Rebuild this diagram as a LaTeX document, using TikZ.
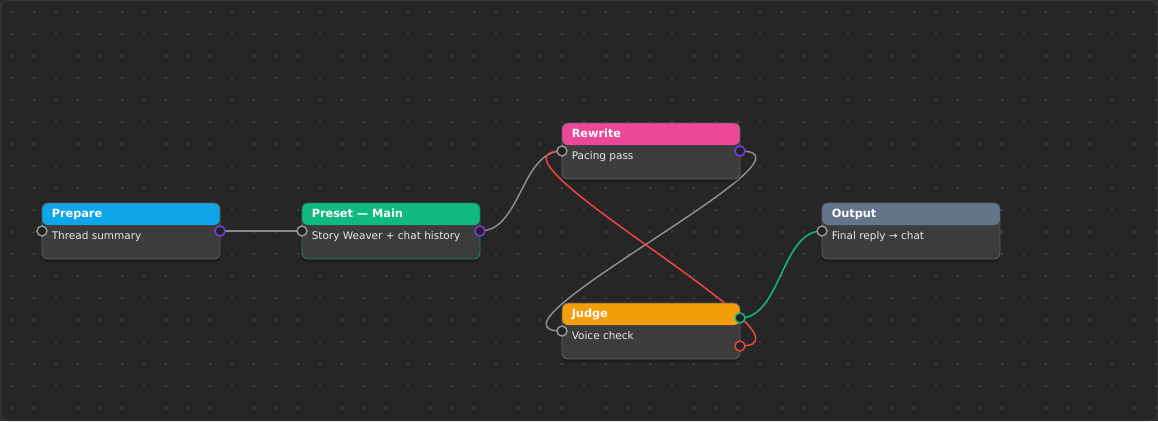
\documentclass[tikz,border=0pt]{standalone}
\usepackage{fontspec}
\setmainfont{DejaVu Sans}
\usetikzlibrary{calc,shadows}
\definecolor{outerc}{HTML}{2E2E2E}
\definecolor{bgc}{HTML}{262626}
\definecolor{framec}{HTML}{363636}
\definecolor{dotc}{HTML}{414141}
\definecolor{bodyc}{HTML}{3C3C3C}
\definecolor{borderc}{HTML}{5C5C5C}
\definecolor{prepc}{HTML}{0EA5E9}
\definecolor{presc}{HTML}{10B981}
\definecolor{rewc}{HTML}{EC4899}
\definecolor{judc}{HTML}{F59E0B}
\definecolor{outc}{HTML}{64748B}
\definecolor{purp}{HTML}{7C3AED}
\definecolor{grayedge}{HTML}{8C8C8C}
\definecolor{rededge}{HTML}{EF4444}
\definecolor{greenedge}{HTML}{10B981}
\definecolor{portgray}{HTML}{9A9A9A}
\definecolor{portfill}{HTML}{232323}
\definecolor{bodytext}{HTML}{E6E6E6}
\definecolor{presborder}{HTML}{1E7D5E}
\begin{document}
\begin{tikzpicture}[x=1pt,y=-1pt,
  card/.style={draw=borderc, line width=0.9pt, fill=bodyc, rounded corners=6pt,
    minimum width=178pt, minimum height=56pt, inner sep=0pt,
    drop shadow={shadow xshift=0pt, shadow yshift=-3pt, opacity=0.25, fill=black}},
  hdr/.style={path picture={\fill[#1] (path picture bounding box.north west) rectangle ([yshift=-22pt]path picture bounding box.north east);}},
  hdrtext/.style={anchor=base west, inner sep=0pt, text=white, font=\fontsize{11.3}{13}\selectfont\bfseries},
  bodytxt/.style={anchor=base west, inner sep=0pt, text=bodytext, font=\fontsize{10.5}{13}\selectfont},
  port/.style={circle, draw=#1, line width=1.4pt, fill=portfill, minimum size=10pt, inner sep=0pt},
  edge/.style={line width=1.5pt, draw=#1}
]
\useasboundingbox (0,0) rectangle (1158,421);
\fill[outerc] (0,0) rectangle (1158,421);
\draw[fill=bgc, draw=framec, line width=1pt, rounded corners=8pt] (0.5,0.5) rectangle (1157.5,420.5);
\foreach \x in {12,34,...,1156}{
  \foreach \y in {12,34,...,408}{
    \fill[dotc] (\x-1,\y-1) rectangle (\x+1,\y+1);
  }
}
% port coordinates (for edges, drawn before nodes)
\coordinate (prep-out) at (220,231);
\coordinate (pres-in) at (302,231);
\coordinate (pres-out) at (480,231);
\coordinate (rew-in) at (562,151);
\coordinate (rew-out) at (740,151);
\coordinate (jud-in) at (562,331);
\coordinate (jud-ok) at (740,318);
\coordinate (jud-bad) at (740,346);
\coordinate (out-in) at (822,231);
% edges
\draw[edge=grayedge] (prep-out) -- (pres-in);
\draw[edge=grayedge] (pres-out) .. controls (521,231) and (521,151) .. (rew-in);
\draw[edge=grayedge] (rew-out) .. controls (835,151) and (467,331) .. (jud-in);
\draw[edge=rededge] (jud-bad) .. controls (835,346) and (467,151) .. (rew-in);
\draw[edge=greenedge] (jud-ok) .. controls (781,318) and (781,231) .. (out-in);
% cards
\node[card, hdr=prepc] (prep) at (131,231) {};
\node[card, hdr=presc, draw=presborder] (pres) at (391,231) {};
\node[card, hdr=rewc] (rew) at (651,151) {};
\node[card, hdr=judc] (jud) at (651,331) {};
\node[card, hdr=outc] (outn) at (911,231) {};
% texts
\node[hdrtext] (prep-h) at ($(prep.north west)+(10,15)$) {Prepare};
\node[bodytxt] (prep-b) at ($(prep.north west)+(10,37)$) {Thread summary};
\node[hdrtext] (pres-h) at ($(pres.north west)+(10,15)$) {Preset — Main};
\node[bodytxt] (pres-b) at ($(pres.north west)+(10,37)$) {Story Weaver + chat history};
\node[hdrtext] (rew-h) at ($(rew.north west)+(10,15)$) {Rewrite};
\node[bodytxt] (rew-b) at ($(rew.north west)+(10,37)$) {Pacing pass};
\node[hdrtext] (jud-h) at ($(jud.north west)+(10,15)$) {Judge};
\node[bodytxt] (jud-b) at ($(jud.north west)+(10,37)$) {Voice check};
\node[hdrtext] (outn-h) at ($(outn.north west)+(10,15)$) {Output};
\node[bodytxt] (outn-b) at ($(outn.north west)+(10,37)$) {Final reply → chat};
% ports
\node[port=portgray] (p1) at (42,231) {};
\node[port=purp] (p2) at (prep-out) {};
\node[port=portgray] (p3) at (pres-in) {};
\node[port=purp] (p4) at (pres-out) {};
\node[port=portgray] (p5) at (rew-in) {};
\node[port=purp] (p6) at (rew-out) {};
\node[port=portgray] (p7) at (jud-in) {};
\node[port=greenedge] (p8) at (jud-ok) {};
\node[port=rededge] (p9) at (jud-bad) {};
\node[port=portgray] (p10) at (out-in) {};
\end{tikzpicture}
\end{document}
